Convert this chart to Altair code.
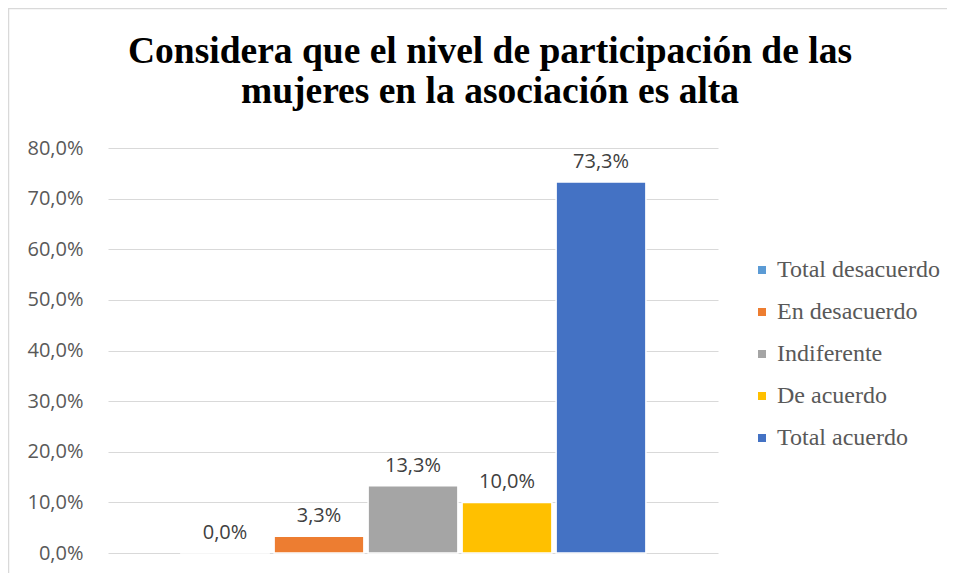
import altair as alt
import pandas as pd

categories = ["Total desacuerdo", "En desacuerdo", "Indiferente", "De acuerdo", "Total acuerdo"]
values = [0.0, 3.3, 13.3, 10.0, 73.3]
colors = ["#5B9BD5", "#ED7D31", "#A5A5A5", "#FFC000", "#4472C4"]
y_ticks = [0, 10, 20, 30, 40, 50, 60, 70, 80]
title_lines = ["Considera que el nivel de participación de las", "mujeres en la asociación es alta"]

df = pd.DataFrame({"cat": categories, "val": values})

W, H = 610, 405

x_enc = alt.X("cat:N", sort=categories, axis=None,
              scale=alt.Scale(paddingInner=0.045, paddingOuter=0.767))
y_scale = alt.Scale(domain=[0, 80], nice=False)
y_axis = alt.Axis(values=y_ticks, title=None, domain=False, ticks=False,
                  labelExpr="replace(format(datum.value, '.1f'), '.', ',') + '%'",
                  labelFont="Open Sans", labelFontSize=20, labelColor="#595959",
                  labelPadding=25, gridColor="#d9d9d9", gridWidth=1.2)

base = alt.Chart(df)

border = alt.Chart(pd.DataFrame({"a": [0]})).mark_rect(
    fill="white", fillOpacity=0, stroke="#d9d9d9", strokeWidth=1.5
).encode(x=alt.value(-99.5), x2=alt.value(860), y=alt.value(-139.5), y2=alt.value(440))


def title_line(txt, ypix):
    return alt.Chart(pd.DataFrame({"t": [txt]})).mark_text(
        font="Liberation Serif", fontSize=37.5, fontWeight="bold", color="black",
        align="center", baseline="alphabetic"
    ).encode(x=alt.value(382), y=alt.value(ypix), text="t:N")


title1 = title_line(title_lines[0], -85)
title2 = title_line(title_lines[1], -45)

bars = base.mark_bar(stroke="white", strokeWidth=1.5).encode(
    x=x_enc,
    y=alt.Y("val:Q", scale=y_scale, axis=y_axis),
    color=alt.Color("cat:N", sort=categories,
                    scale=alt.Scale(domain=categories, range=colors),
                    legend=alt.Legend(title=None, orient="none", legendX=642, legendY=110,
                                      symbolType="square", symbolSize=64, symbolStrokeWidth=0,
                                      labelFont="Liberation Serif", labelFontSize=24,
                                      labelLimit=400,
                                      labelColor="#595959", rowPadding=18, labelOffset=3)),
)

labels = base.transform_calculate(
    lbl="replace(format(datum.val, '.1f'), '.', ',') + '%'"
).mark_text(baseline="bottom", dy=-10, font="Open Sans", fontSize=20, color="#404040").encode(
    x=alt.X("cat:N", sort=categories, axis=None),
    y=alt.Y("val:Q", scale=y_scale, axis=y_axis),
    text="lbl:N",
)

chart = alt.layer(bars, labels, border, title1, title2).properties(
    width=W, height=H,
    background="white",
    autosize=alt.AutoSizeParams(type="none"),
    padding={"left": 100, "top": 140, "right": 229, "bottom": 20},
).configure_view(stroke="transparent", strokeWidth=0)

chart.save("out.html", embed_options={"renderer": "svg", "actions": False})
